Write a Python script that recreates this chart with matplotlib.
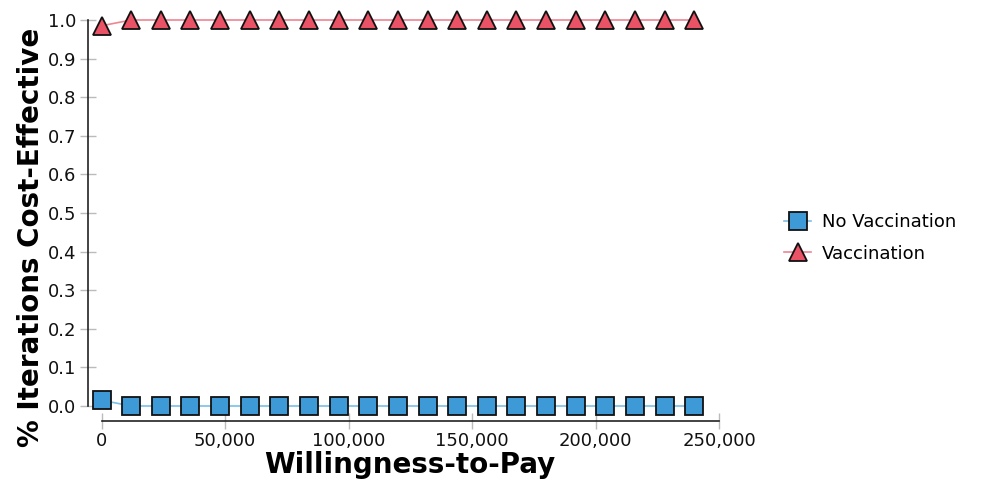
import matplotlib
matplotlib.use("Agg")
import matplotlib.pyplot as plt
from matplotlib.ticker import FuncFormatter

wtp = [0, 12000, 24000, 36000, 48000, 60000, 72000, 84000, 96000, 108000, 120000,
       132000, 144000, 156000, 168000, 180000, 192000, 204000, 216000, 228000, 240000]
no_vacc = [0.015] + [0.0] * 20
vacc = [0.985] + [1.0] * 20

plt.rcParams['font.family'] = ['DejaVu Sans']

fig = plt.figure(figsize=(9.81, 4.8), dpi=100)
ax = fig.add_axes([101.5 / 981, 74 / 480, 617.5 / 981, 386 / 480])

ax.plot(wtp, no_vacc, color='#7cbfe6', lw=1.2, marker='s', ms=12.5,
        mfc='#3d9ad6', mec='#111111', mew=1.3, label='No Vaccination', clip_on=False, zorder=3)
ax.plot(wtp, vacc, color='#ee8592', lw=1.2, marker='^', ms=13.5,
        mfc='#ea5266', mec='#111111', mew=1.3, label='Vaccination', clip_on=False, zorder=3)

ax.set_xlim(0, 250000)
ax.set_ylim(0, 1)
ax.set_xticks(range(0, 250001, 50000))
ax.set_yticks([i / 10 for i in range(11)])
ax.xaxis.set_major_formatter(FuncFormatter(lambda v, p: f"{int(v):,}"))
ax.yaxis.set_major_formatter(FuncFormatter(lambda v, p: f"{v:.1f}"))

for s in ['top', 'right']:
    ax.spines[s].set_visible(False)
ax.spines['left'].set_position(('outward', 9.5))
ax.spines['bottom'].set_position(('outward', 11))
for s in ['left', 'bottom']:
    ax.spines[s].set_color('#222222')
    ax.spines[s].set_linewidth(1.2)

ax.tick_params(axis='both', direction='inout', length=11, width=1.0, color='#bbbbbb',
               labelsize=13, labelcolor='#111111')
ax.tick_params(axis='y', pad=3)
ax.tick_params(axis='x', pad=2)

ax.set_xlabel('Willingness-to-Pay', fontsize=20, fontweight='bold', labelpad=1)
ax.set_ylabel('% Iterations Cost-Effective', fontsize=20, fontweight='bold')
ax.yaxis.set_label_coords(-0.092, 0.437)

fig.legend(loc='center left', bbox_to_anchor=(768 / 981, 1 - 238 / 480), frameon=False,
           fontsize=13, handlelength=1.5, handletextpad=0.6, labelspacing=0.75)

fig.savefig('out.png', dpi=100)
